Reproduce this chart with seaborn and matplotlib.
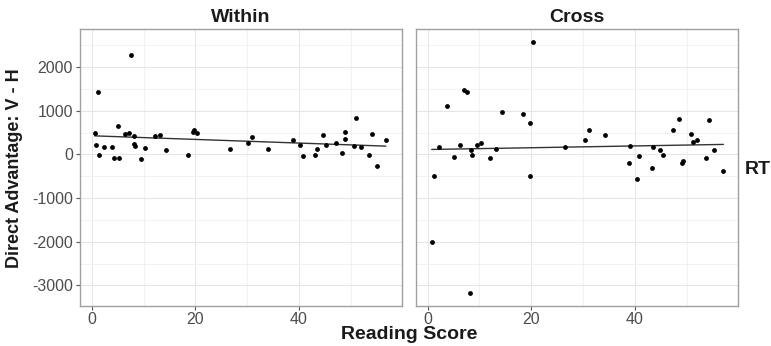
import numpy as np
import pandas as pd
import matplotlib
matplotlib.use("Agg")
import matplotlib.pyplot as plt
from matplotlib.ticker import MultipleLocator, FixedLocator
import seaborn as sns

# ---- data ----
within_score = [0.5, 0.8, 1.2, 1.3, 2.4, 3.8, 4.3, 5.0, 5.2, 6.3, 7.1, 7.6, 8.1, 8.2, 8.4,
                9.5, 10.3, 12.1, 13.2, 14.3, 18.5, 19.6, 19.8, 20.3, 26.6, 30.2, 31.0, 34.1,
                38.8, 40.2, 40.7, 43.1, 43.4, 44.6, 45.3, 47.2, 48.3, 48.9, 49.0, 50.6, 51.1,
                52.0, 53.5, 54.2, 55.1, 56.8]
within_value = [495, 228, 1422, -7, 160, 167, -84, 646, -91, 479, 495, 2290, 427, 244, 205,
                -98, 152, 427, 456, 98, -15, 518, 555, 495, 121, 258, 395, 130,
                327, 212, -46, -7, 121, 449, 212, 274, 30, 510, 365, 190, 838,
                160, -15, 479, -267, 320]

cross_score = [0.8, 1.2, 2.3, 3.7, 5.1, 6.3, 7.0, 7.6, 8.1, 8.3, 8.5, 9.5, 10.4, 12.1, 13.3,
               14.4, 18.5, 19.7, 19.8, 20.4, 26.6, 30.3, 31.1, 34.2, 38.9, 39.0, 40.4, 40.9,
               43.3, 43.5, 44.8, 45.4, 47.4, 48.5, 49.1, 49.3, 50.8, 51.3, 52.1, 53.7, 54.4,
               55.3, 57.1]
cross_value = [-2016, -502, 167, 1119, -61, 228, 1468, 1438, -3173, 98, -23, 228, 258, -76, 121,
               966, 929, 715, -487, 2587, 167, 320, 571, 456, -206, 183, -555, -38,
               -304, 176, 98, -23, 571, 822, -190, -160, 464, 281, 327, -76, 792,
               107, -388]

panel_titles = ["Within", "Cross"]
row_label = "RT"
x_label = "Reading Score"
y_label = "Direct Advantage: V - H"
x_ticks = [0, 20, 40]
y_ticks = [-3000, -2000, -1000, 0, 1000, 2000]

df = pd.concat([
    pd.DataFrame({"score": within_score, "value": within_value, "cond": "Within"}),
    pd.DataFrame({"score": cross_score, "value": cross_value, "cond": "Cross"}),
])

sns.set_style("white")
plt.rcParams["font.family"] = ["Liberation Sans", "DejaVu Sans"]
plt.rcParams["axes.unicode_minus"] = False

W, H = 771, 346
fig = plt.figure(figsize=(W / 100, H / 100), dpi=100)

def fx(px):
    return px / W

def fy(px):
    return 1 - px / H

top, bottom = 29, 305.5
ax_l = fig.add_axes([fx(80), fy(bottom), fx(402 - 80), (bottom - top) / H])
ax_r = fig.add_axes([fx(415.5), fy(bottom), fx(738 - 415.5), (bottom - top) / H])

# ggplot-like 5% expansion of the shared scales
xmin, xmax = df["score"].min(), df["score"].max()
ymin, ymax = df["value"].min(), df["value"].max()
xr, yr = xmax - xmin, ymax - ymin
xlim = (xmin - 0.05 * xr, xmax + 0.05 * xr)
ylim = (ymin - 0.05 * yr, ymax + 0.05 * yr)

for ax, cond in zip([ax_l, ax_r], panel_titles):
    sub = df[df["cond"] == cond]
    sns.regplot(data=sub, x="score", y="value", ax=ax, ci=None,
                scatter_kws=dict(s=12, color="black", alpha=1, linewidths=0, zorder=3),
                line_kws=dict(color="#333333", lw=1.0, zorder=2))
    ax.set_xlim(*xlim)
    ax.set_ylim(*ylim)
    ax.xaxis.set_major_locator(FixedLocator(x_ticks))
    ax.xaxis.set_minor_locator(MultipleLocator(10))
    ax.yaxis.set_major_locator(FixedLocator(y_ticks))
    ax.yaxis.set_minor_locator(MultipleLocator(500))
    ax.grid(True, which="major", color="#e6e6e6", lw=0.8, zorder=0)
    ax.grid(True, which="minor", color="#f0f0f0", lw=0.6, zorder=0)
    ax.set_axisbelow(True)
    for sp in ax.spines.values():
        sp.set_color("#a0a0a0")
        sp.set_linewidth(1.0)
    ax.tick_params(axis="both", which="major", length=3, width=0.8, color="#555555",
                   labelsize=11.5, labelcolor="#4d4d4d", pad=2, direction="out",
                   bottom=True, left=True)
    ax.tick_params(axis="both", which="minor", length=0)
    ax.set_xlabel("")
    ax.set_ylabel("")
    ax.set_title(cond, fontsize=14, fontweight="bold", pad=5, color="#1a1a1a")

ax_r.tick_params(axis="y", which="major", labelleft=False, left=False)

fig.text(fx(745), fy(174), row_label, fontsize=14, fontweight="bold",
         ha="left", va="baseline", color="#1a1a1a")
fig.text(fx(409.5), fy(339), x_label, fontsize=14, fontweight="bold",
         ha="center", va="baseline", color="#1a1a1a")
fig.text(fx(14.5), fy(168), y_label, fontsize=13, fontweight="bold",
         rotation=90, ha="center", va="center", color="#1a1a1a")

fig.savefig("out.png", dpi=100)
